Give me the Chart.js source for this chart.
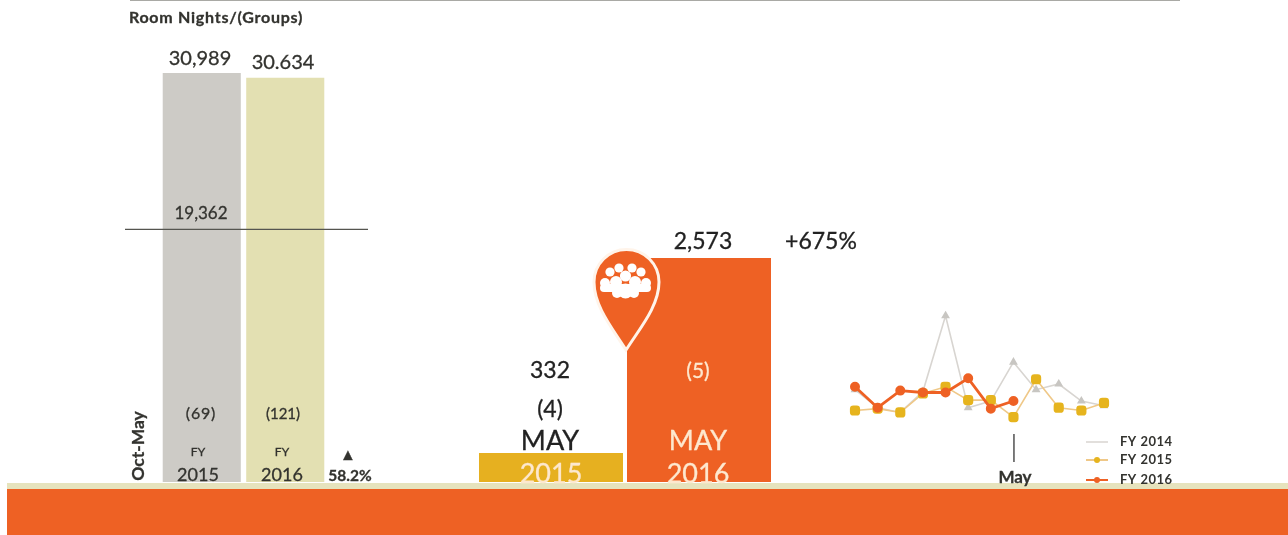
<!DOCTYPE html>
<html><head><meta charset="utf-8">
<script src="https://cdn.jsdelivr.net/npm/chart.js@4"></script>
<style>
html,body{margin:0;padding:0;background:#fff;width:1288px;height:535px;overflow:hidden}
#stage{position:relative;width:1288px;height:535px;overflow:hidden;font-family:Lato,sans-serif;filter:blur(.7px)}
.box{position:absolute}
.lbl{position:absolute;white-space:nowrap;transform:translate(-50%,-50%);line-height:1;-webkit-text-stroke:.3px currentColor}
</style></head><body>
<div id="stage">
<div class="box" style="left:130px;top:0;width:1050px;height:1px;background:#a9a9a5"></div>
<div class="box" style="left:7px;top:483px;width:1281px;height:6px;background:#e6e3bd"></div>
<div class="box" style="left:7px;top:489px;width:1281px;height:46px;background:#ee6124"></div>
<div class="box" style="left:120px;top:0;width:260px;height:482px"><canvas id="c1" width="260" height="482"></canvas></div>
<div class="box" style="left:477px;top:0;width:296px;height:482px"><canvas id="c2" width="296" height="482"></canvas></div>
<div class="box" style="left:845px;top:290px;width:345px;height:200px"><canvas id="c3" width="345" height="200"></canvas></div>
<svg class="box" style="left:585px;top:240px" width="85" height="120" viewBox="585 240 85 120">
<path d="M626 350 C612 328 594 306 594 282 A32.5 32.5 0 0 1 659 282 C659 306 640 328 626 350 Z" fill="#ee6124" stroke="#fff4ea" stroke-width="3"/>
<g fill="#fff"><circle cx="605" cy="283" r="5"/><circle cx="646" cy="283" r="5"/><circle cx="610" cy="272" r="4.6"/><circle cx="641" cy="272" r="4.6"/><circle cx="619" cy="268" r="4.6"/><circle cx="632" cy="268" r="4.6"/><circle cx="616" cy="282" r="6"/><circle cx="635" cy="282" r="6"/><circle cx="625.5" cy="276" r="5.6"/>
<rect x="600" y="284" width="51" height="8" rx="4"/><circle cx="617" cy="293" r="5"/><circle cx="634" cy="293" r="5"/><circle cx="625.5" cy="291" r="7.5"/></g>
</svg>
<div id="labels"></div>
</div>
<script>
const fyCategories = ['FY 2015','FY 2016'];
const fyRoomNights = [30989, 30634];
const fyColors = ['#cdcbc6','#e3e0b2'];
const fyReference = 19362;
const mayCategories = ['May 2015','May 2016'];
const mayRoomNights = [332, 2573];
const mayColors = ['#e6b020','#ee6124'];
const months = ['Oct','Nov','Dec','Jan','Feb','Mar','Apr','May','Jun','Jul','Aug','Sep'];
const fy2014 = [32,13,8,30,110,13,20,61,32,38,20,15];
const fy2015 = [10,12,8,28,35,21,21,3,43,13,10,18];
const fy2016 = [35,13,31,29,29,44,12,20];

const dark='#33332f', cream='#fde8cf';
// text, x, y, size, colour, weight, letter spacing
const texts = [
 ['Room Nights/(Groups)',216,17,16,dark,700,.75],
 ['30,989',200,57,20,dark,400,0],['30.634',283,61,20,dark,400,0],['19,362',201,212,17,dark,400,0],
 ['(69)',201,413,16,dark,400,.8],['(121)',283,413,15,dark,400,0],
 ['FY',198,452,12,dark,400,0],['2015',198,474,18,dark,400,0],['FY',282,452,12,dark,400,0],['2016',282,474,18,dark,400,0],
 ['▲',348,454,16,dark,400,0],['58.2%',350,476,15.5,dark,700,0],
 ['2,573',703,240,23,'#222',400,0],['+675%',821,240,23,'#222',400,0],
 ['332',550,369,23,'#222',400,0],['(4)',550,408,23,'#222',400,0],['MAY',550,439,27,'#222',400,0],['2015',551,472,27,cream,400,0],
 ['(5)',698,369,21,cream,400,0],['MAY',698,439,27,cream,400,0],['2016',698,472,27,cream,400,0],
 ['May',1015,476,17,dark,700,0]
];
const host=document.getElementById('labels');
for(const [t,x,y,s,c,w,ls] of texts){
 const d=document.createElement('div');d.className='lbl';d.textContent=t;
 d.style.cssText=`left:${x}px;top:${y}px;font-size:${s}px;color:${c};font-weight:${w};letter-spacing:${ls}px`;host.appendChild(d);
}
const rot=document.createElement('div');rot.className='lbl';rot.textContent='Oct-May';
rot.style.cssText=`left:138px;top:446px;font-size:17.5px;color:${dark};font-weight:700;transform:translate(-50%,-50%) rotate(-90deg)`;host.appendChild(rot);

Chart.defaults.animation=false;Chart.defaults.responsive=false;
const hidden={display:false};
const barOpts=(max,padding)=>({layout:{padding},events:[],plugins:{legend:hidden,tooltip:{enabled:false}},
 scales:{x:{display:false},y:{display:false,min:0,max}}});

const refLine={id:'refLine',afterDatasetsDraw(ch){
 const y=ch.scales.y.getPixelForValue(fyReference)+3,c=ch.ctx;
 c.save();c.strokeStyle='#55554f';c.lineWidth=1.2;c.beginPath();c.moveTo(5,y);c.lineTo(248,y);c.stroke();c.restore();}};
new Chart('c1',{type:'bar',data:{labels:fyCategories,datasets:[{data:fyRoomNights,backgroundColor:fyColors,barPercentage:.935,categoryPercentage:1}]},
 options:barOpts(36520,{left:40,right:53}),plugins:[refLine]});
new Chart('c2',{type:'bar',data:{labels:mayCategories,datasets:[{data:mayRoomNights,backgroundColor:mayColors,barPercentage:.973,categoryPercentage:1}]},
 options:barOpts(5537,{})});

const lineExtras={id:'lineExtras',afterDatasetsDraw(ch){
 const c=ch.ctx,x=ch.scales.x.getPixelForValue(7);
 c.save();c.strokeStyle='#444';c.lineWidth=1.4;c.beginPath();c.moveTo(x+.5,144);c.lineTo(x+.5,172);c.stroke();
 ch.data.datasets.forEach((d,i)=>{
  const ly=[152,170,190][i];
  c.strokeStyle=d.borderColor;c.lineWidth=i?2:1.5;c.beginPath();c.moveTo(241,ly);c.lineTo(263,ly);c.stroke();
  if(i){c.fillStyle=d.pointBackgroundColor;c.beginPath();c.arc(252,ly,3,0,7);c.fill();}
  c.fillStyle=dark;c.font='700 13px Lato';c.letterSpacing='.5px';c.textBaseline='middle';c.fillText(d.label,275,ly);
 });
 c.restore();}};
new Chart('c3',{type:'line',data:{labels:months,datasets:[
 {label:'FY 2014',order:3,data:fy2014,borderColor:'#d8d5d1',pointBackgroundColor:'#c8c6c2',pointBorderColor:'#c8c6c2',borderWidth:1.6,pointRadius:3.5,pointStyle:'triangle',tension:0,clip:false},
 {label:'FY 2015',order:2,data:fy2015,borderColor:'#efc888',pointBackgroundColor:'#e6b41e',pointBorderColor:'#e6b41e',borderWidth:1.6,pointRadius:5,pointStyle:'rectRounded',tension:0,clip:false},
 {label:'FY 2016',order:1,data:fy2016,borderColor:'#ee6124',pointBackgroundColor:'#ee6124',pointBorderColor:'#ee6124',borderWidth:2.8,pointRadius:3.6,pointStyle:'circle',tension:0,clip:false}
]},options:{layout:{padding:{left:10,right:86,bottom:70}},events:[],plugins:{legend:hidden,tooltip:{enabled:false}},
 scales:{x:{display:false},y:{display:false,min:0,max:130}}},plugins:[lineExtras]});
</script>
</body></html>
